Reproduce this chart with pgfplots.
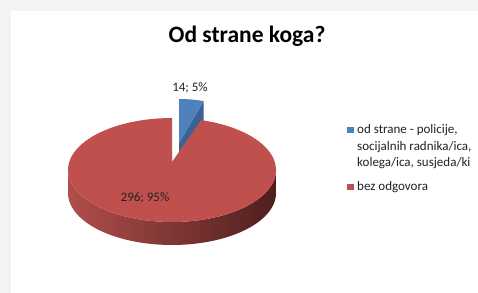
\documentclass[border=0pt]{standalone}
\usepackage{pgfplots}
\pgfplotsset{compat=1.18}
\usepackage{pgfplotstable}
\usepackage{fontspec}
\setmainfont{Carlito}
\definecolor{bluetop}{HTML}{4F81BD}
\definecolor{blueside}{HTML}{3A6394}
\definecolor{redtop}{HTML}{C0504D}
\definecolor{redsideL}{HTML}{B04E4B}
\definecolor{redsideR}{HTML}{4E1F1E}
\definecolor{txt}{HTML}{222222}
\definecolor{outer}{HTML}{F3F3F3}
\pgfplotstableread{
label value
1 14
2 296
}\piedata
\begin{document}%
\begin{tikzpicture}
\pgfplotstablegetelem{0}{value}\of\piedata \let\va\pgfplotsretval
\pgfplotstablegetelem{1}{value}\of\piedata \let\vb\pgfplotsretval
\pgfmathsetmacro\angb{360*\va/(\va+\vb)}
\pgfmathsetmacro\tb{90-\angb}
\pgfmathsetmacro\tr{450-\angb}
\pgfmathsetmacro\bex{179+88*cos(\tb)}
\pgfmathsetmacro\bey{151-52*sin(\tb)}
\pgfmathsetmacro\beyd{\bey+23}
\begin{axis}[width=478bp,height=293bp,scale only axis,
  xmin=0,xmax=478,ymin=0,ymax=293,y dir=reverse,hide axis,clip=false,
  xtick=\empty,ytick=\empty]
\coordinate (bl) at (axis cs:0,293);
\coordinate (tr) at (axis cs:478,0);
\fill[outer] (axis cs:0,0) rectangle (axis cs:478,293);
\fill[white] (axis cs:11,11) rectangle (axis cs:478,293);
% blue slice cut face
\addplot[forget plot,fill=blueside,draw=none] coordinates {(179,143) (\bex,\bey) (\bex,\beyd) (179,166)} -- cycle;
% blue top face
\addplot[fill=bluetop,draw=none,domain=\tb:90,samples=20]
  ({179+88*cos(x)},{151-52*sin(x)}) -- (axis cs:179,143) -- cycle;
% red side wall
\addplot[forget plot,draw=none,left color=redsideL,right color=redsideR,domain=180:540,samples=121]
  ({172+104*cos(x)},{170+52*abs(sin(x))+(x>360?23:0)}) -- cycle;
% red top face
\addplot[fill=redtop,draw=none,domain=90:\tr,samples=150]
  ({172+104*cos(x)},{170-52*sin(x)}) -- (axis cs:172,162) -- cycle;
% legend
\fill[bluetop] (axis cs:347,126.8) rectangle (axis cs:353.5,133.3);
\node[anchor=base west,inner sep=0pt,font=\fontsize{13bp}{16.5bp}\selectfont,text=txt] at (axis cs:357,133.5)
  {\vtop{\hbox{od strane - policije,}\hbox{socijalnih radnika/ica,}\hbox{kolega/ica, susjeda/ki}}};
\fill[redtop] (axis cs:347,183.5) rectangle (axis cs:353.5,190);
\node[anchor=base west,inner sep=0pt,font=\fontsize{13bp}{16.5bp}\selectfont,text=txt] at (axis cs:357,190.5) {bez odgovora};
\node[anchor=base,font=\fontsize{23.5bp}{26bp}\selectfont\bfseries] at (axis cs:247,42) {Od strane koga?};
\node[font=\fontsize{13bp}{15bp}\selectfont,text=txt] at (axis cs:190,88) {14; 5\%};
\node[font=\fontsize{13bp}{15bp}\selectfont,text=txt] at (axis cs:145,198) {296; 95\%};
\end{axis}
\pgfresetboundingbox
\useasboundingbox (bl) rectangle (tr);
\end{tikzpicture}%
\end{document}
